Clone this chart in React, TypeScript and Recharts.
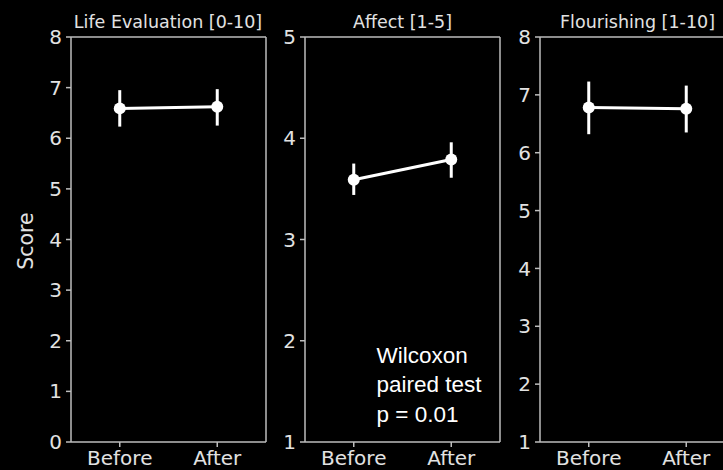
import React from 'react';
import { LineChart, Line, XAxis, YAxis, ErrorBar, ReferenceLine } from 'recharts';

const conditions = ['Before', 'After'];

const lifeMean = [6.59, 6.62];
const lifeLow = [6.23, 6.25];
const lifeHigh = [6.95, 6.97];

const affectMean = [3.59, 3.79];
const affectLow = [3.44, 3.61];
const affectHigh = [3.75, 3.96];

const flourMean = [6.78, 6.76];
const flourLow = [6.32, 6.35];
const flourHigh = [7.23, 7.16];

const lifeTicks = [0, 1, 2, 3, 4, 5, 6, 7, 8];
const affectTicks = [1, 2, 3, 4, 5];
const flourTicks = [1, 2, 3, 4, 5, 6, 7, 8];

const titles = ['Life Evaluation [0-10]', 'Affect [1-5]', 'Flourishing [1-10]'];
const yLabel = 'Score';
const noteLines = ['Wilcoxon', 'paired test', 'p = 0.01'];

const SPINE = '#bdbdbd';
const TEXT = '#e2e2e2';
const FONT = 'DejaVu Sans';
const X_DOMAIN = [-0.5, 1.5];

function build(mean: number[], low: number[], high: number[]) {
  return conditions.map((c, i) => ({
    x: i,
    name: c,
    mean: mean[i],
    err: [mean[i] - low[i], high[i] - mean[i]],
  }));
}

type PanelProps = {
  left: number;
  width: number;
  yWidth: number;
  data: any[];
  ticks: number[];
};

function Panel({ left, width, yWidth, data, ticks }: PanelProps) {
  const domain = [ticks[0], ticks[ticks.length - 1]];
  const tickStyle = { fill: TEXT, fontSize: 20, fontFamily: FONT };
  return (
    <div style={{ position: 'absolute', left, top: 0 }}>
      <LineChart
        width={width}
        height={470}
        data={data}
        margin={{ top: 37, right: width - yWidth - 195, left: 0, bottom: 0 }}
      >
        <XAxis
          dataKey="x"
          type="number"
          domain={X_DOMAIN}
          ticks={[0, 1]}
          tickFormatter={(v: number) => conditions[v]}
          height={28}
          tickSize={5}
          tickMargin={4}
          axisLine={{ stroke: SPINE, strokeWidth: 1.5 }}
          tickLine={{ stroke: SPINE, strokeWidth: 1.5 }}
          tick={tickStyle}
          interval={0}
        />
        <YAxis
          type="number"
          domain={domain}
          ticks={ticks}
          width={yWidth}
          tickSize={5}
          tickMargin={4}
          axisLine={{ stroke: SPINE, strokeWidth: 1.5 }}
          tickLine={{ stroke: SPINE, strokeWidth: 1.5 }}
          tick={tickStyle}
          interval={0}
        />
        <ReferenceLine y={domain[1]} stroke={SPINE} strokeWidth={1.5} />
        <ReferenceLine x={X_DOMAIN[1]} stroke={SPINE} strokeWidth={1.5} />
        <Line
          dataKey="mean"
          stroke="#ffffff"
          strokeWidth={3}
          dot={{ r: 6, fill: '#ffffff', stroke: 'none' }}
          activeDot={false}
          isAnimationActive={false}
        >
          <ErrorBar dataKey="err" direction="y" width={0} stroke="#ffffff" strokeWidth={3} isAnimationActive={false} />
        </Line>
      </LineChart>
    </div>
  );
}

export default function App() {
  return (
    <div
      style={{
        position: 'absolute',
        left: 0,
        top: 0,
        width: 723,
        height: 470,
        overflow: 'hidden',
        background: '#000',
      }}
    >
      <Panel left={0} width={280} yWidth={71} data={build(lifeMean, lifeLow, lifeHigh)} ticks={lifeTicks} />
      <Panel left={230} width={285} yWidth={75} data={build(affectMean, affectLow, affectHigh)} ticks={affectTicks} />
      <Panel left={465} width={285} yWidth={75} data={build(flourMean, flourLow, flourHigh)} ticks={flourTicks} />
      <svg
        width={723}
        height={470}
        style={{ position: 'absolute', left: 0, top: 0, pointerEvents: 'none' }}
      >
        <text x={168} y={27.5} textAnchor="middle" fill={TEXT} fontSize={17.5} fontFamily={FONT}>
          {titles[0]}
        </text>
        <text x={402.5} y={27.5} textAnchor="middle" fill={TEXT} fontSize={17.5} fontFamily={FONT}>
          {titles[1]}
        </text>
        <text x={637.5} y={27.5} textAnchor="middle" fill={TEXT} fontSize={17.5} fontFamily={FONT}>
          {titles[2]}
        </text>
        <text
          transform="translate(33,241) rotate(-90)"
          textAnchor="middle"
          fill={TEXT}
          fontSize={20.5}
          fontFamily={FONT}
        >
          {yLabel}
        </text>
        {noteLines.map((t, i) => (
          <text
            key={t}
            x={376.5}
            y={363 + i * 29.3}
            fill="#ffffff"
            fontSize={22.5}
            fontFamily="Liberation Sans"
          >
            {t}
          </text>
        ))}
      </svg>
    </div>
  );
}
